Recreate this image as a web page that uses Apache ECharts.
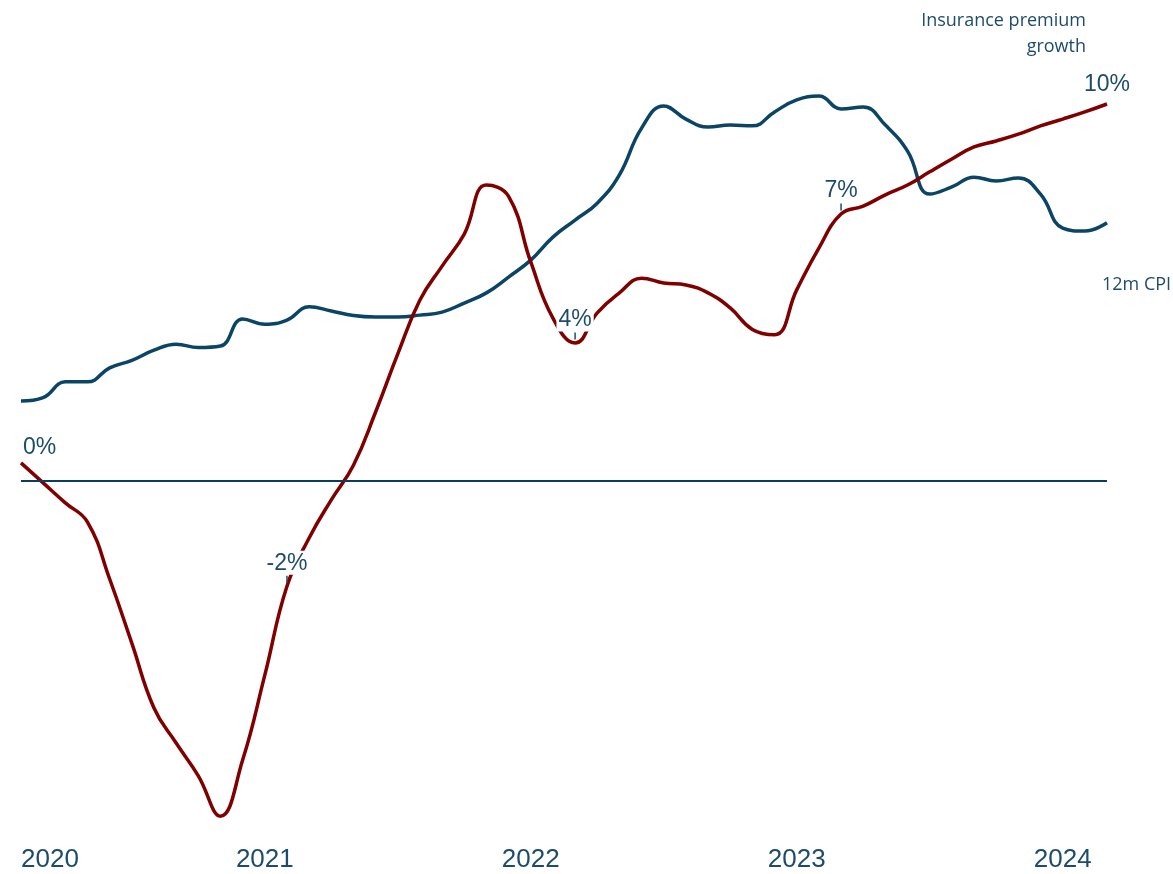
<!DOCTYPE html>
<html>
<head>
<meta charset="utf-8">
<script src="https://cdn.jsdelivr.net/npm/echarts@6/dist/echarts.min.js"></script>
<style>
  html, body { margin: 0; padding: 0; background: #fff; }
  #chart { width: 1173px; height: 874px; }
</style>
</head>
<body>
<div id="chart"></div>
<script>
// monthly observations, Feb 2020 .. Mar 2024
const months = [
  '2020-02', '2020-03', '2020-04', '2020-05', '2020-06', '2020-07', '2020-08', '2020-09', '2020-10', '2020-11', '2020-12',
  '2021-01', '2021-02', '2021-03', '2021-04', '2021-05', '2021-06', '2021-07', '2021-08', '2021-09', '2021-10', '2021-11', '2021-12',
  '2022-01', '2022-02', '2022-03', '2022-04', '2022-05', '2022-06', '2022-07', '2022-08', '2022-09', '2022-10', '2022-11', '2022-12',
  '2023-01', '2023-02', '2023-03', '2023-04', '2023-05', '2023-06', '2023-07', '2023-08', '2023-09', '2023-10', '2023-11', '2023-12',
  '2024-01', '2024-02', '2024-03'
]

// 12m CPI (%)
const cpi = [
  2.12, 2.21, 2.63, 2.63, 3.00, 3.20, 3.47, 3.63, 3.54, 3.58, 4.30,
  4.16, 4.27, 4.62, 4.51, 4.39, 4.35, 4.35, 4.40, 4.48, 4.72, 4.99, 5.41,
  5.86, 6.47, 6.92, 7.37, 8.12, 9.36, 9.95, 9.60, 9.39, 9.44, 9.42, 9.79,
  10.11, 10.21, 9.87, 9.92, 9.44, 8.75, 7.61, 7.80, 8.06, 7.96, 8.04, 7.61,
  6.71, 6.63, 6.85
]

// Insurance premium growth (%)
const premium = [
  0.48, -0.05, -0.58, -1.09, -2.60, -4.30, -6.02, -6.95, -7.82, -8.89, -7.40,
  -5.15, -2.79, -1.51, -0.50, 0.42, 1.83, 3.37, 4.80, 5.70, 6.55, 7.85, 7.55,
  5.81, 4.32, 3.66, 4.46, 4.99, 5.38, 5.25, 5.20, 4.99, 4.59, 4.02, 3.88,
  5.07, 6.18, 7.08, 7.29, 7.59, 7.85, 8.20, 8.54, 8.86, 9.02, 9.20, 9.42,
  9.60, 9.79, 10.00
]

// value labels on the premium line: [month, text]
const premiumLabels = [
  ['2020-02', '0%'],
  ['2021-02', '-2%'],
  ['2022-03', '4%'],
  ['2023-03', '7%'],
  ['2024-03', '10%']
]

// x-axis year labels: [month, text]
const yearTicks = [
  ['2020-02', '2020'],
  ['2021-01', '2021'],
  ['2022-01', '2022'],
  ['2023-01', '2023'],
  ['2024-01', '2024']
]

const textColor = '#1d4c6b'
const blue = '#0b4566'
const red = '#800000'
const labelFont = '"Liberation Sans", Arial, sans-serif'

// month string -> months since Jan 2020
const toX = (m) => {
  const [y, mo] = m.split('-').map(Number)
  return (y - 2020) * 12 + (mo - 1)
}

const xs = months.map(toX)
const tickValues = yearTicks.map((t) => toX(t[0]))
const tickText = {}
yearTicks.forEach((t) => { tickText[toX(t[0])] = t[1] })

const chart = echarts.init(document.getElementById('chart'))

// label marks: ends get no tick, the rest get a small leader tick
const labelMarks = premiumLabels.map(([m, text], k) => {
  const i = months.indexOf(m)
  const end = k === 0 || k === premiumLabels.length - 1
  return {
    coord: [xs[i], premium[i]],
    symbol: 'rect',
    symbolSize: end ? [0.1, 0.1] : [1.5, 7],
    symbolOffset: [0, end ? 0 : -7],
    itemStyle: { color: textColor },
    label: {
      show: true,
      position: 'top',
      distance: end ? (k === 0 ? 4 : 8) : 1,
      align: k === 0 ? 'left' : 'center',
      formatter: text,
      color: textColor,
      fontSize: 23,
      fontFamily: labelFont,
      backgroundColor: '#fff',
      padding: [1, 2, 0, 2]
    }
  }
})

chart.setOption({
  animation: false,
  grid: { left: 21, right: 66, top: 66.3, bottom: 53.7 },
  xAxis: {
    type: 'value',
    min: xs[0],
    max: xs[xs.length - 1],
    splitLine: { show: false },
    axisLine: { show: false },
    axisTick: { show: false },
    axisLabel: {
      customValues: tickValues,
      formatter: (v) => tickText[v] || '',
      alignMinLabel: 'left',
      margin: 27,
      color: textColor,
      fontSize: 26,
      fontFamily: labelFont
    }
  },
  yAxis: {
    type: 'value',
    min: -9,
    max: 11,
    show: false
  },
  series: [
    {
      name: '12m CPI',
      type: 'line',
      data: xs.map((x, i) => [x, cpi[i]]),
      smooth: 0.45,
      showSymbol: false,
      lineStyle: { color: blue, width: 3.5 },
      z: 3,
      markLine: {
        silent: true,
        symbol: 'none',
        label: { show: false },
        lineStyle: { color: '#0b3d5c', width: 2, type: 'solid' },
        data: [{ yAxis: 0 }]
      }
    },
    {
      name: 'Insurance premium growth',
      type: 'line',
      data: xs.map((x, i) => [x, premium[i]]),
      smooth: 0.45,
      showSymbol: false,
      lineStyle: { color: red, width: 3.5 },
      z: 4,
      markPoint: {
        silent: true,
        data: labelMarks
      }
    }
  ],
  graphic: [
    {
      type: 'text',
      x: 1086,
      y: 8,
      style: {
        text: 'Insurance premium\ngrowth',
        align: 'right',
        verticalAlign: 'top',
        fill: textColor,
        font: '18px "Open Sans"',
        lineHeight: 26
      }
    },
    {
      type: 'text',
      x: 1102,
      y: 276,
      style: {
        text: '12m CPI',
        verticalAlign: 'top',
        fill: textColor,
        font: '18px "Open Sans"'
      }
    }
  ]
})

window.addEventListener('resize', () => {
  chart.resize()
})
</script>
</body>
</html>
